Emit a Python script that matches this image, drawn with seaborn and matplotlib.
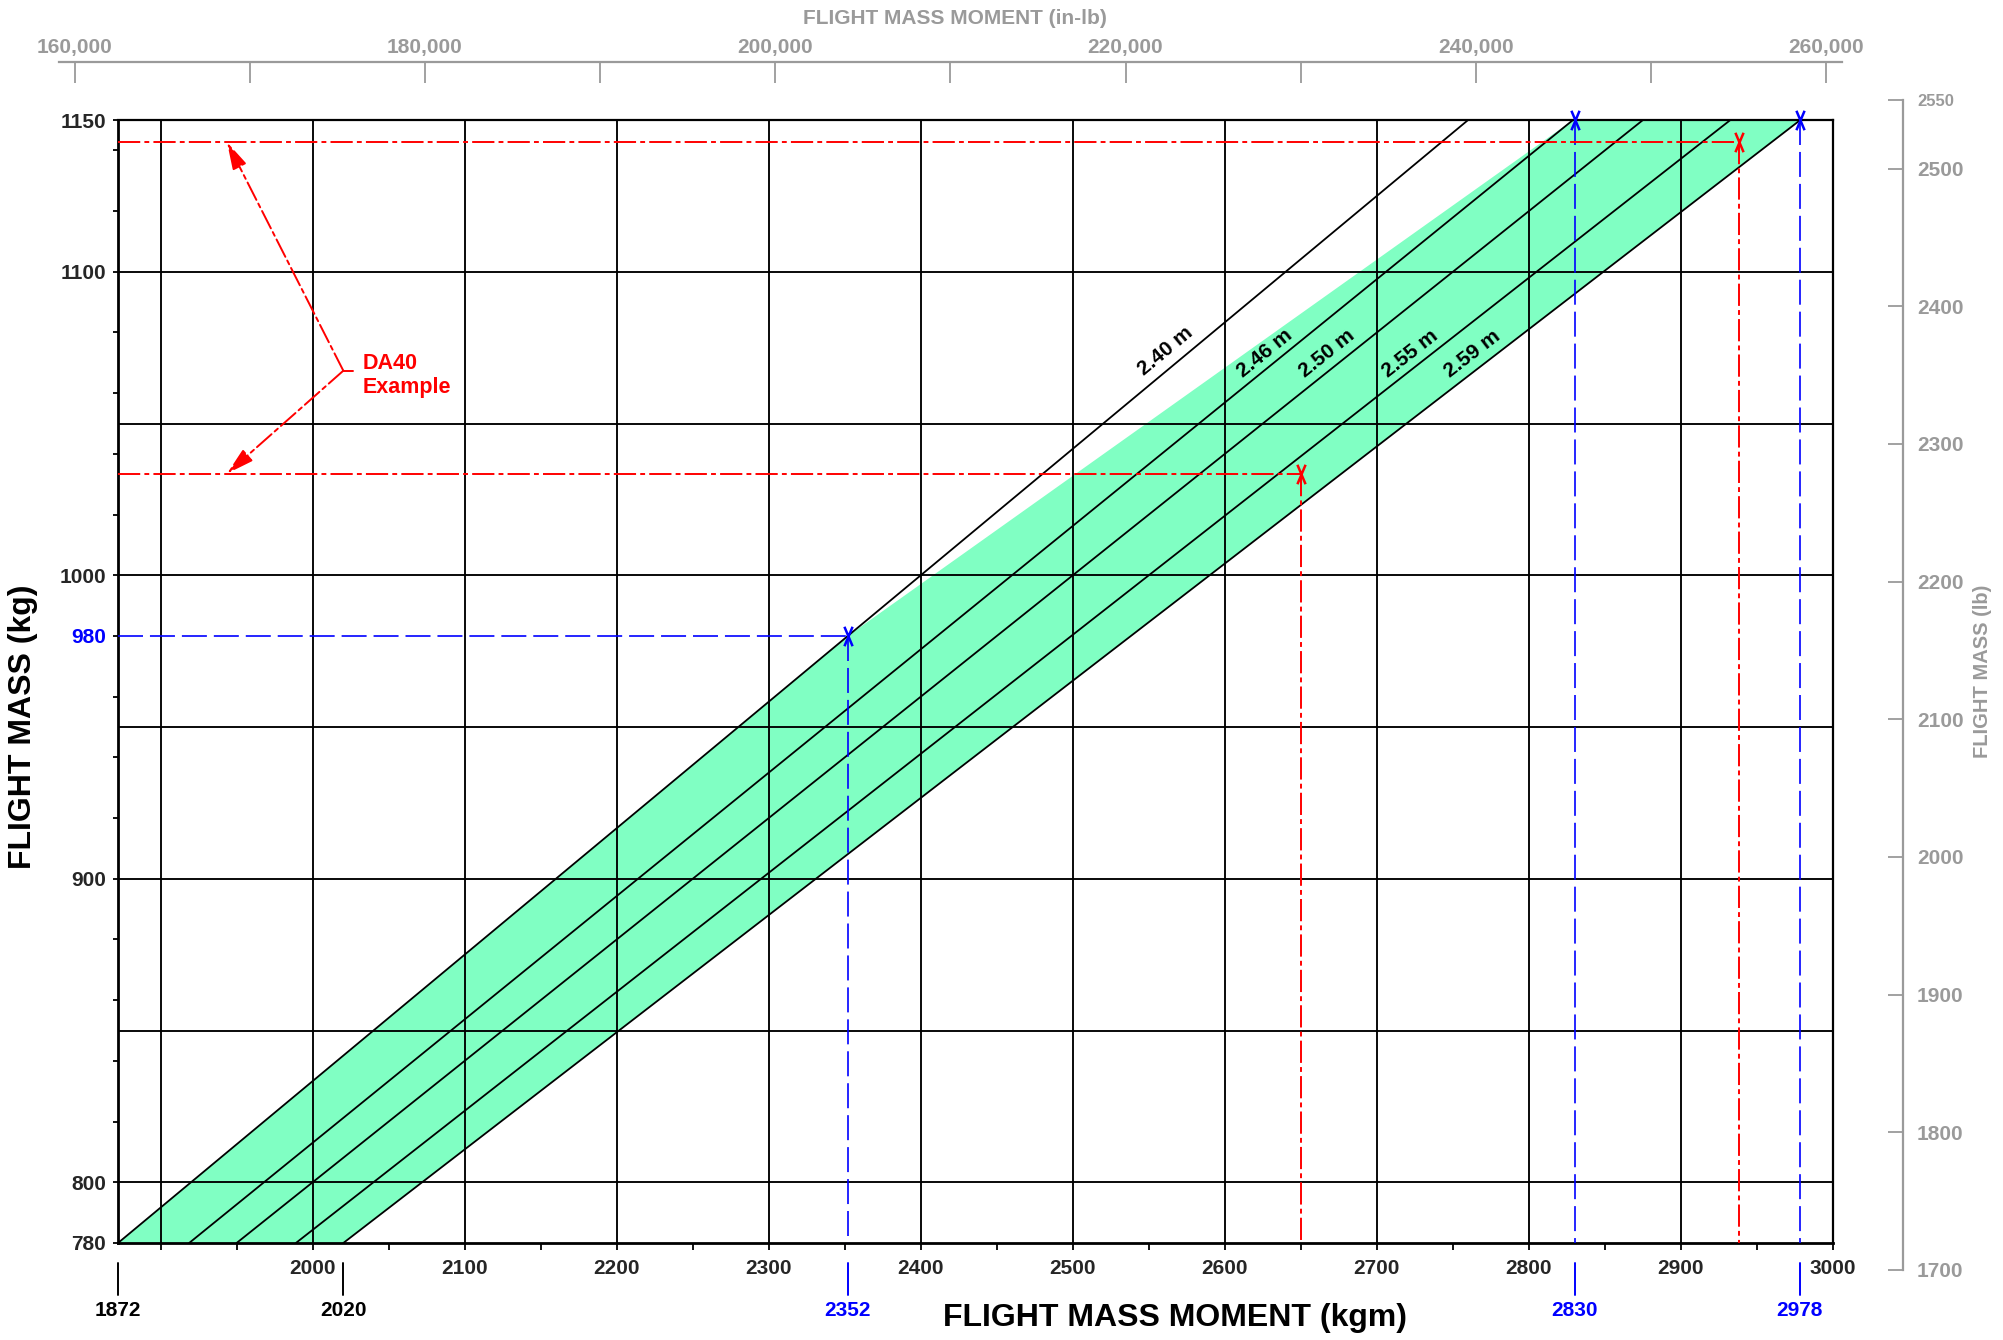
import numpy as np
import pandas as pd
import matplotlib
matplotlib.use("Agg")
import matplotlib.pyplot as plt
import matplotlib.transforms as mtransforms
from matplotlib.path import Path
import seaborn as sns

# ---------------- data ----------------
cg_labels = ["2.40 m", "2.46 m", "2.50 m", "2.55 m", "2.59 m"]
cg_arm = [2.40, 2.46, 2.50, 2.55, 2.59]
cg_mass_low = 780
cg_mass_high = 1150
cg_moment_low = [1872.0, 1918.8, 1950.0, 1989.0, 2020.2]
cg_moment_high = [2760.0, 2829.0, 2875.0, 2932.5, 2978.5]

env_moment = [1872.0, 2352.0, 2829.0, 2978.5, 2020.2]
env_mass = [780, 980, 1150, 1150, 780]

label_moment = [2561, 2626, 2667, 2722, 2763]
label_mass = [1074, 1073, 1073, 1073, 1073]

blue_h_mass = 980
blue_h_moment = 2352
blue_v_moment = [2352, 2830, 2978]
blue_v_top = [980, 1150, 1150]

red_mass = [1142.7, 1033.5]
red_moment = [2938, 2650]

extra_ticks = [1872, 2020, 2352, 2830, 2978]
extra_colors = ["black", "black", "blue", "blue", "blue"]

x_major = list(range(1900, 3001, 100))
x_minor = list(range(1950, 3000, 100))
y_major = [780, 800, 900, 980, 1000, 1100, 1150]
y_minor = list(range(780, 1150, 20))
grid_x = list(range(1900, 3000, 100))
grid_y = list(range(800, 1150, 50))

top_major = list(range(160000, 260001, 20000))
top_minor = list(range(170000, 260000, 20000))
right_major = [1700, 1800, 1900, 2000, 2100, 2200, 2300, 2400, 2500]
right_extra = [2550]

ann_origin = (2020.2, 1067.4)
ann_bracket_end = 2026.3
ann_tips = [(1943.7, 1142.7), (1943.7, 1033.5)]
ann_text = (2033.0, 1065.8)

KGM_TO_INLB = 86.796
KG_TO_LB = 2.20462

# ---------------- style ----------------
sns.set_theme(style="white")
plt.rcParams["font.family"] = ["Liberation Sans", "DejaVu Sans"]
plt.rcParams["font.weight"] = "bold"
plt.rcParams["lines.scale_dashes"] = False
GRAY = "#9a9a9a"
GREEN = "#80ffc3"

W, H = 2003, 1340
fig = plt.figure(figsize=(W / 100, H / 100), dpi=100)
fig.patch.set_facecolor("white")

AX_L, AX_R, AX_T, AX_B = 118, 1833, 120, 1243
XMIN, XMAX, YMIN, YMAX = 1872, 3000, 780, 1150
ax = fig.add_axes([AX_L / W, 1 - AX_B / H, (AX_R - AX_L) / W, (AX_B - AX_T) / H])
ax.set_facecolor("white")
ax.set_xlim(XMIN, XMAX)
ax.set_ylim(YMIN, YMAX)

# envelope
ax.fill(env_moment, env_mass, color=GREEN, lw=0, zorder=1)

# grid
for gx in grid_x:
    ax.axvline(gx, color="black", lw=1.35, zorder=2)
for gy in grid_y:
    ax.axhline(gy, color="black", lw=1.35, zorder=2)

# CG lines via seaborn
rows = []
for lab, lo, hi in zip(cg_labels, cg_moment_low, cg_moment_high):
    rows.append({"moment": lo, "mass": cg_mass_low, "arm": lab})
    rows.append({"moment": hi, "mass": cg_mass_high, "arm": lab})
df = pd.DataFrame(rows)
sns.lineplot(data=df, x="moment", y="mass", hue="arm", units="arm", estimator=None,
             palette=["black"] * len(cg_labels), legend=False, lw=1.3, ax=ax, zorder=3)

for lab, arm, mx, my in zip(cg_labels, cg_arm, label_moment, label_mass):
    ax.text(mx, my, lab, rotation=np.degrees(np.arctan2(1, arm)), transform_rotates_text=True,
            rotation_mode="anchor", ha="center", va="center", fontsize=15, fontweight="bold",
            color="black", zorder=4)

# marker
xpath = Path([(-0.42, -1), (0.42, 1), (-0.42, 1), (0.42, -1)],
             [Path.MOVETO, Path.LINETO, Path.MOVETO, Path.LINETO])

# blue lines
blue_dash = (0, (18, 5))
ax.plot([XMIN, blue_h_moment], [blue_h_mass, blue_h_mass], color="blue", lw=1.2,
        linestyle=blue_dash, zorder=5)
for bx, bt in zip(blue_v_moment, blue_v_top):
    ax.plot([bx, bx], [bt, YMIN], color="blue", lw=1.2, linestyle=blue_dash, zorder=5)
ax.plot(blue_v_moment, blue_v_top, linestyle="none", marker=xpath, markersize=14,
        markeredgecolor="blue", markerfacecolor="none", markeredgewidth=1.8, zorder=6,
        clip_on=False)

# red lines
red_dash = (0, (16, 3, 3.5, 3))
for rm, rx in zip(red_mass, red_moment):
    ax.plot([XMIN, rx], [rm, rm], color="red", lw=1.4, linestyle=red_dash, zorder=5)
    ax.plot([rx, rx], [rm, YMIN], color="red", lw=1.4, linestyle=red_dash, zorder=5)
ax.plot(red_moment, red_mass, linestyle="none", marker=xpath, markersize=14,
        markeredgecolor="red", markerfacecolor="none", markeredgewidth=1.8, zorder=6)

# DA40 annotation
ax.plot([ann_origin[0], ann_bracket_end], [ann_origin[1], ann_origin[1]], color="red",
        lw=1.4, zorder=6)
for tip in ann_tips:
    ax.annotate("", xy=tip, xytext=ann_origin,
                arrowprops=dict(arrowstyle="-|>,head_length=1.4,head_width=0.38",
                                color="red", lw=1.4, linestyle=(0, (14, 3, 3, 3)),
                                shrinkA=0, shrinkB=0), zorder=6)
ax.text(ann_text[0], ann_text[1], "DA40\nExample", color="red", fontsize=15.5,
        fontweight="bold", ha="left", va="center", linespacing=1.15, zorder=6)

# axes ticks
ax.set_xticks(x_major)
ax.set_xticklabels(["" if v == 1900 else str(v) for v in x_major])
ax.set_xticks(x_minor, minor=True)
ax.set_yticks(y_major)
ax.set_yticklabels([str(v) for v in y_major])
ax.set_yticks(y_minor, minor=True)
ax.tick_params(axis="x", which="both", direction="out", length=5, width=1.3,
               color="black", labelsize=15, pad=6.5, bottom=True)
ax.tick_params(axis="y", which="both", direction="out", length=3.5, width=1.3,
               color="black", labelsize=15, pad=5, left=True)
for t in ax.get_xticklabels() + ax.get_yticklabels():
    t.set_fontweight("bold")
for t in ax.get_yticklabels():
    if t.get_text() == "980":
        t.set_color("blue")
for s in ax.spines.values():
    s.set_color("black")
    s.set_linewidth(1.6)
    s.set_visible(True)
ax.spines["left"].set_linewidth(2.0)
ax.spines["bottom"].set_linewidth(2.0)
ax.set_xlabel("")
ax.set_ylabel("")

# second row of x ticks
blend = mtransforms.blended_transform_factory(ax.transData, ax.transAxes)
for ex, ec in zip(extra_ticks, extra_colors):
    ax.plot([ex, ex], [-20 / 1123, -52 / 1123], transform=blend, color=ec, lw=1.4,
            clip_on=False)
    ax.text(ex, -67 / 1123, str(ex), transform=blend, color=ec, fontsize=15,
            fontweight="bold", ha="center", va="center")

# ---------------- top axis (in-lb) ----------------
def kgm_at(px):
    return XMIN + (px - AX_L) * (XMAX - XMIN) / (AX_R - AX_L)

TOP_L, TOP_R, TOP_Y = 59, 1842, 61.7
axt = fig.add_axes([TOP_L / W, 1 - (TOP_Y + 30) / H, (TOP_R - TOP_L) / W, 30 / H])
axt.set_xlim(kgm_at(TOP_L) * KGM_TO_INLB, kgm_at(TOP_R) * KGM_TO_INLB)
axt.set_ylim(0, 1)
axt.patch.set_alpha(0)
for k, s in axt.spines.items():
    s.set_visible(k == "top")
axt.spines["top"].set_color(GRAY)
axt.spines["top"].set_linewidth(1.6)
axt.set_yticks([])
axt.xaxis.tick_top()
axt.set_xticks(top_major)
axt.set_xticklabels([f"{v:,}" for v in top_major])
axt.set_xticks(top_minor, minor=True)
axt.tick_params(axis="x", which="both", direction="in", length=15, width=1.3,
                color=GRAY, labelcolor=GRAY, labelsize=15, pad=3.5)
for t in axt.get_xticklabels():
    t.set_fontweight("bold")

# ---------------- right axis (lb) ----------------
def py_of_lb(lb):
    return AX_T + (YMAX - lb / KG_TO_LB) * (AX_B - AX_T) / (YMAX - YMIN)

R_X = 1903
rt, rb = py_of_lb(2550), py_of_lb(1700)
axr = fig.add_axes([(R_X - 40) / W, 1 - rb / H, 40 / W, (rb - rt) / H])
axr.set_ylim(1700, 2550)
axr.set_xlim(0, 1)
axr.patch.set_alpha(0)
for k, s in axr.spines.items():
    s.set_visible(k == "right")
axr.spines["right"].set_color(GRAY)
axr.spines["right"].set_linewidth(1.6)
axr.set_xticks([])
axr.yaxis.tick_right()
axr.set_yticks(right_major + right_extra)
axr.set_yticklabels([str(v) for v in right_major + right_extra])
axr.tick_params(axis="y", which="both", direction="in", length=11, width=1.3,
                color=GRAY, labelcolor=GRAY, labelsize=15, pad=10)
for t in axr.get_yticklabels():
    t.set_fontweight("bold")
    if t.get_text() == "2550":
        t.set_fontsize(12)

# ---------------- axis titles ----------------
fig.text(1175 / W, 1 - 1318 / H, "FLIGHT MASS MOMENT (kgm)", ha="center", va="center",
         fontsize=23, fontweight="bold", color="black")
fig.text(23 / W, 1 - 727 / H, "FLIGHT MASS (kg)", ha="center", va="center",
         rotation=90, fontsize=23, fontweight="bold", color="black")
fig.text(955 / W, 1 - 18 / H, "FLIGHT MASS MOMENT (in-lb)", ha="center", va="center",
         fontsize=15, fontweight="bold", color=GRAY)
fig.text(1982 / W, 1 - 671 / H, "FLIGHT MASS (lb)", ha="center", va="center",
         rotation=90, fontsize=14.5, fontweight="bold", color=GRAY)

fig.savefig("out.png", dpi=100, facecolor="white")
